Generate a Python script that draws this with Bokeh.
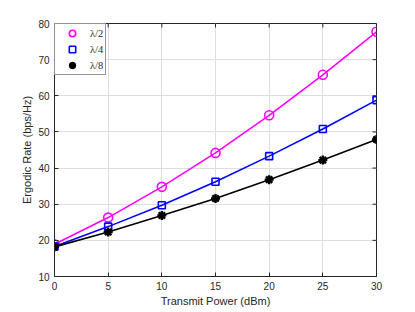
import math
from bokeh.plotting import figure
from bokeh.models import Legend, LegendItem, FixedTicker, Range1d
from bokeh.embed import file_html
from bokeh.resources import INLINE

power_dbm = [0, 5, 10, 15, 20, 25, 30]
rate_l2 = [18.9, 26.3, 34.8, 44.2, 54.6, 65.8, 77.7]
rate_l4 = [18.3, 23.8, 29.7, 36.2, 43.3, 50.8, 58.8]
rate_l8 = [18.2, 22.3, 26.9, 31.6, 36.8, 42.2, 47.9]
labels = ["\u03bb/2", "\u03bb/4", "\u03bb/8"]
x_ticks = [0, 5, 10, 15, 20, 25, 30]
y_ticks = [10, 20, 30, 40, 50, 60, 70, 80]
x_min, x_max = 0, 30
y_min, y_max = 10, 80

FONT = "Liberation Sans"
TXT = "#262626"

p = figure(width=407, height=309, output_backend="svg", toolbar_location=None,
           x_range=Range1d(x_min, x_max), y_range=Range1d(y_min, y_max),
           min_border_left=54, min_border_right=31, min_border_top=23, min_border_bottom=30)
p.outline_line_color = "#262626"
p.outline_line_width = 1
p.background_fill_color = "white"
p.border_fill_color = "white"

for ax in (p.xaxis[0], p.yaxis[0]):
    ax.major_tick_in = 4
    ax.major_tick_out = 0
    ax.minor_tick_in = 0
    ax.minor_tick_out = 0
    ax.axis_line_color = "#262626"
    ax.major_tick_line_color = "#262626"
    ax.major_label_text_font = FONT
    ax.major_label_text_font_size = "10px"
    ax.major_label_text_color = TXT
    ax.axis_label_text_font = FONT
    ax.axis_label_text_font_size = "11px"
    ax.axis_label_text_font_style = "normal"
    ax.axis_label_text_color = TXT

p.xaxis[0].ticker = FixedTicker(ticks=x_ticks)
p.yaxis[0].ticker = FixedTicker(ticks=y_ticks)
p.xaxis[0].axis_label = "Transmit Power (dBm)"
p.yaxis[0].axis_label = "Ergodic Rate (bps/Hz)"
p.xaxis[0].major_label_standoff = 5
p.yaxis[0].major_label_standoff = 5
p.xaxis[0].axis_label_standoff = 2
p.yaxis[0].axis_label_standoff = 2

# mirrored ticks on top/right (box on)
p.ray(x=x_ticks, y=[y_max] * len(x_ticks), length=4, length_units="screen",
      angle=-math.pi / 2, line_color="#262626", line_width=1)
p.ray(x=[x_max] * len(y_ticks), y=y_ticks, length=4, length_units="screen",
      angle=math.pi, line_color="#262626", line_width=1)

p.xgrid.ticker = FixedTicker(ticks=x_ticks)
p.ygrid.ticker = FixedTicker(ticks=y_ticks)
p.xgrid.grid_line_color = "#dedede"
p.ygrid.grid_line_color = "#dedede"

p.line(power_dbm, rate_l2, line_color="#ff00ff", line_width=1.6)
m1 = p.scatter(power_dbm, rate_l2, marker="circle", size=9, fill_color=None,
               line_color="#ff00ff", line_width=1.6)
p.line(power_dbm, rate_l4, line_color="#0000ff", line_width=1.6)
m2 = p.scatter(power_dbm, rate_l4, marker="square", size=7, fill_color=None,
               line_color="#0000ff", line_width=1.6)
p.line(power_dbm, rate_l8, line_color="black", line_width=1.6)
m3 = p.scatter(power_dbm, rate_l8, marker="asterisk", size=9, line_color="black",
               line_width=2.4)
m3b = p.scatter(power_dbm, rate_l8, marker="circle", size=4, fill_color="black",
                line_color="black")

legend = Legend(items=[LegendItem(label=labels[0], renderers=[m1]),
                       LegendItem(label=labels[1], renderers=[m2]),
                       LegendItem(label=labels[2], renderers=[m3, m3b])],
                location="top_left")
legend.margin = 0
legend.padding = 1
legend.spacing = -4
legend.glyph_width = 32
legend.glyph_height = 16
legend.label_standoff = 2
legend.label_height = 12
legend.label_text_font = "Liberation Serif"
legend.label_text_font_size = "10.5px"
legend.label_text_color = TXT
legend.border_line_color = "#262626"
legend.border_line_width = 1
legend.background_fill_alpha = 1
legend.label_width = 14
p.add_layout(legend, "center")

open("out.html", "w").write(file_html(p, INLINE))
